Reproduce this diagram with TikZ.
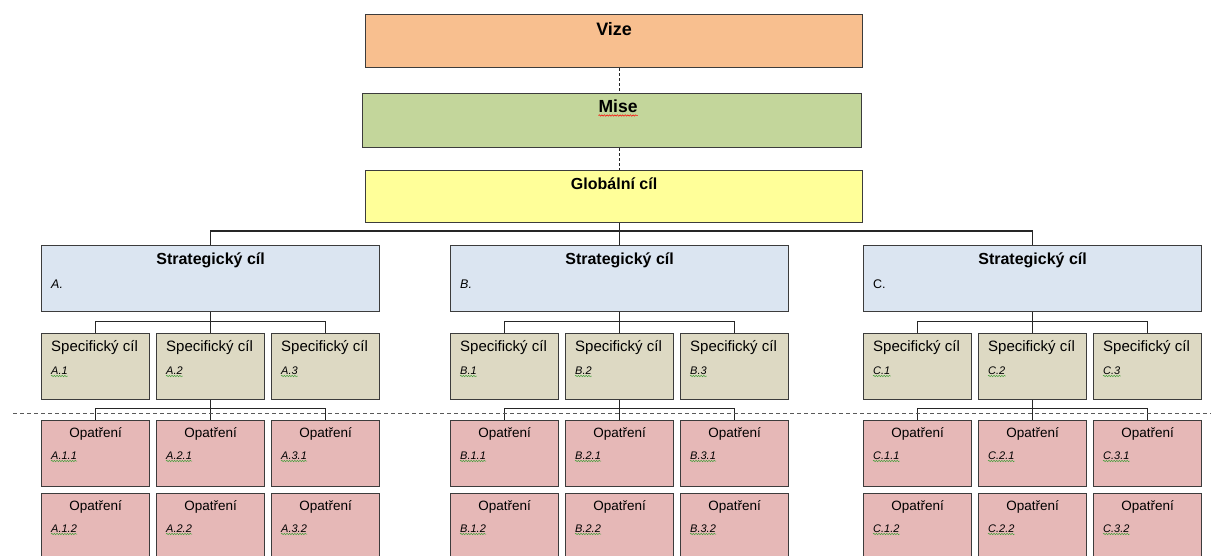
\documentclass[tikz,border=0pt]{standalone}
\usepackage{fontspec}
\setmainfont{Liberation Sans}
\usetikzlibrary{calc, decorations.pathmorphing}
\definecolor{vizecol}{RGB}{248,191,143}
\definecolor{misecol}{RGB}{195,214,155}
\definecolor{globcol}{RGB}{255,255,153}
\definecolor{stratcol}{RGB}{219,229,241}
\definecolor{speccol}{RGB}{221,217,195}
\definecolor{opcol}{RGB}{230,184,183}
\definecolor{boxline}{RGB}{60,60,60}
\definecolor{spellgreen}{RGB}{70,160,60}
\tikzset{
  box/.style={draw=boxline, line width=1.2pt, rectangle, inner sep=0pt, anchor=north west},
  topbox/.style={box, minimum width=497pt, minimum height=53pt},
  stratbox/.style={box, fill=stratcol, minimum width=338pt, minimum height=66pt},
  specbox/.style={box, fill=speccol, minimum width=108pt, minimum height=66pt},
  opbox/.style={box, fill=opcol, minimum width=108pt, minimum height=66pt},
  headtext/.style={inner sep=0pt, anchor=base, font=\bfseries\fontsize{16}{19}\selectfont},
  spectext/.style={inner sep=0pt, anchor=base west, font=\fontsize{15}{18}\selectfont},
  optext/.style={inner sep=0pt, anchor=base, font=\fontsize{13.5}{16}\selectfont},
  codetext/.style={inner sep=0pt, anchor=base west, font=\itshape\fontsize{11}{13}\selectfont},
  link/.style={draw=black!85, line width=1.1pt},
  spellmark/.style={decorate, decoration={snake, amplitude=0.7pt, segment length=2.6pt}, line width=0.5pt}
}

\begin{document}
\begin{tikzpicture}[x=1pt, y=-1pt]
\useasboundingbox (0,0) rectangle (1211,556);
% top column
\node[topbox, fill=vizecol] (vize) at (365,14) {};
\node[headtext, font=\bfseries\fontsize{18}{21}\selectfont] (vizet) at ([yshift=-22pt]vize.north) {Vize};
\node[topbox, fill=misecol, minimum width=499pt, minimum height=54pt] (mise) at (362,93) {};
\node[headtext, font=\bfseries\fontsize{17.5}{21}\selectfont] (miset) at ([xshift=6pt,yshift=-20pt]mise.north) {Mise};
\draw[spellmark, red] ([yshift=-2.5pt]miset.base west) -- ([yshift=-2.5pt]miset.base east);
\node[topbox, fill=globcol, minimum height=52pt] (glob) at (365,170) {};
\node[headtext] (globt) at ([yshift=-20pt]glob.north) {Globální cíl};
% strategic goals, specific goals and measures
\foreach \g/\gx/\gf in {A/41/\itshape, B/450/\itshape, C/863/\upshape} {
  \node[stratbox] (str\g) at (\gx,245) {};
  \node[headtext] at ([yshift=-20pt]str\g.north) {Strategický cíl};
  \node[codetext, font=\fontsize{12.5}{15}\selectfont] at ([xshift=10pt,yshift=-44pt]str\g.north west) {\gf\g.};
  \foreach \s in {1,2,3} {
    \node[specbox] (spec\g\s) at ({\gx+115*(\s-1)},333) {};
    \node[spectext] at ([xshift=10pt,yshift=-19pt]spec\g\s.north west) {Specifický cíl};
    \node[codetext] (specl\g\s) at ([xshift=10pt,yshift=-41pt]spec\g\s.north west) {\g.\s};
    \draw[spellmark, spellgreen] ([yshift=-2pt]specl\g\s.base west) -- ([yshift=-2pt]specl\g\s.base east);
    \foreach \r/\ry in {1/420, 2/493} {
      \node[opbox] (op\g\s\r) at ({\gx+115*(\s-1)},\ry) {};
      \node[optext] at ([yshift=-17pt]op\g\s\r.north) {Opatření};
      \node[codetext] (opl\g\s\r) at ([xshift=10pt,yshift=-39pt]op\g\s\r.north west) {\g.\s.\r};
      \draw[spellmark, spellgreen] ([yshift=-2pt]opl\g\s\r.base west) -- ([yshift=-2pt]opl\g\s\r.base east);
    }
  }
  \draw[link] (str\g.south) -- ++(0,9) -| (spec\g1.north);
  \draw[link] (str\g.south) -- ++(0,9) -| (spec\g3.north);
  \draw[link] (str\g.south) -- (spec\g2.north);
  \draw[link] (spec\g2.south) -- ++(0,8) -| (op\g11.north);
  \draw[link] (spec\g2.south) -- ++(0,8) -| (op\g31.north);
  \draw[link] (spec\g2.south) -- (op\g21.north);
}
% connectors of the column
\draw[link, dash pattern=on 3pt off 2pt] (vize.south -| strB.north) -- (mise.north -| strB.north);
\draw[link, dash pattern=on 3pt off 2pt] (mise.south -| strB.north) -- (glob.north -| strB.north);
\draw[link] (glob.south -| strB.north) -- (strB.north);
\draw[link] (strA.north) -- ++(0,-14) -| (strC.north);
% dividing line
\draw[draw=black!65, line width=0.9pt, dash pattern=on 4pt off 3pt] (13,413) -- (1211,413);
\end{tikzpicture}
\end{document}
